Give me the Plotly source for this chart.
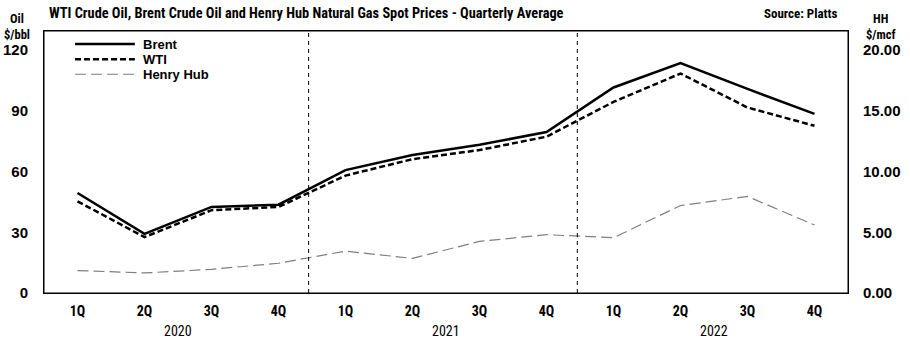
import plotly.graph_objects as go

quarters = ["1Q", "2Q", "3Q", "4Q"] * 3
years = ["2020", "2021", "2022"]
brent = [49.4, 29.2, 42.5, 43.6, 60.7, 68.2, 73.2, 79.5, 101.5, 113.6, 100.8, 88.5]
wti = [45.3, 27.6, 40.9, 42.5, 58.0, 66.1, 70.6, 77.2, 94.4, 108.4, 91.6, 82.6]
henry_hub = [1.85, 1.65, 1.95, 2.45, 3.45, 2.85, 4.25, 4.8, 4.55, 7.2, 7.95, 5.6]

x = list(range(len(quarters)))
narrow = "Liberation Sans Narrow, Arial Narrow, Roboto Condensed, Liberation Sans, Arial"
arial = "Liberation Sans, Arial"

styles = {
    "Brent": dict(color="black", width=2.5),
    "WTI": dict(color="black", width=2.5, dash="6px,3px"),
    "Henry Hub": dict(color="#7f7f7f", width=1.2, dash="11px,5px"),
}

fig = go.Figure()
fig.add_trace(go.Scatter(x=x, y=brent, name="Brent", mode="lines", line=styles["Brent"]))
fig.add_trace(go.Scatter(x=x, y=wti, name="WTI", mode="lines", line=styles["WTI"]))
fig.add_trace(go.Scatter(x=x, y=henry_hub, name="Henry Hub", mode="lines", yaxis="y2",
                         line=styles["Henry Hub"]))

for xv in [3.45, 7.46]:
    fig.add_shape(type="line", xref="x", yref="paper", x0=xv, x1=xv, y0=0, y1=1,
                  line=dict(color="black", width=1, dash="4px,4px"))

fig.add_shape(type="rect", xref="paper", yref="paper", x0=0, x1=1, y0=0, y1=1,
              line=dict(color="black", width=1))

# custom legend
for i, name in enumerate(["Brent", "WTI", "Henry Hub"]):
    ly = 0.950 - i * 0.0575
    fig.add_shape(type="line", xref="paper", yref="paper", x0=0.0386, x1=0.113, y0=ly, y1=ly,
                  line=styles[name])
    fig.add_annotation(x=0.1206, y=ly, xref="paper", yref="paper", xanchor="left", yanchor="middle",
                       text="<b>%s</b>" % name, showarrow=False,
                       font=dict(family=arial, size=13, color="black"))

for i, yr in enumerate(years):
    fig.add_annotation(x=i * 4 + 1.5, y=-0.105, xref="x", yref="paper", text=yr,
                       showarrow=False, yanchor="top",
                       font=dict(family=narrow, size=14, color="black"))

fig.add_annotation(x=0.004, y=1.03, xref="paper", yref="paper", xanchor="left", yanchor="bottom",
                   text="<b>WTI Crude Oil, Brent Crude Oil and Henry Hub Natural Gas Spot Prices - Quarterly Average</b>",
                   showarrow=False, font=dict(family=narrow, size=14.3, color="black"))
fig.add_annotation(x=0.99, y=1.03, xref="paper", yref="paper", xanchor="right", yanchor="bottom",
                   text="<b>Source: Platts</b>", showarrow=False,
                   font=dict(family=narrow, size=13, color="black"))
fig.add_annotation(x=0.0, y=1.085, xref="paper", yref="paper", xanchor="right", yanchor="top",
                   xshift=-12,
                   text="<b>Oil<br>$/bbl</b>", showarrow=False, align="center",
                   font=dict(family=narrow, size=12.5, color="black"))
fig.add_annotation(x=1.0, y=1.085, xref="paper", yref="paper", xanchor="left", yanchor="top",
                   xshift=16,
                   text="<b>HH<br>$/mcf</b>", showarrow=False, align="center",
                   font=dict(family=narrow, size=12.5, color="black"))

fig.update_layout(
    width=910, height=350,
    margin=dict(l=44, r=62, t=31, b=57),
    paper_bgcolor="white", plot_bgcolor="white",
    showlegend=False,
    xaxis=dict(range=[-0.5, 11.5], tickvals=x, ticktext=quarters, showgrid=False,
               zeroline=False, showline=True, linecolor="black", linewidth=1, mirror=True,
               ticks="", ticklabelstandoff=5, automargin=False,
               tickfont=dict(family=narrow, size=14, color="black", weight="bold")),
    yaxis=dict(range=[0, 129.4], tickvals=[0, 30, 60, 90, 120], showgrid=False,
               zeroline=False, showline=True, linecolor="black", linewidth=1, mirror=True,
               ticks="", ticklabelstandoff=12, automargin=False,
               tickfont=dict(family=arial, size=15, color="black", weight="bold")),
    yaxis2=dict(range=[0, 21.57], overlaying="y", side="right",
                tickvals=[0, 5, 10, 15, 20], ticktext=["0.00", "5.00", "10.00", "15.00", "20.00"],
                showgrid=False, zeroline=False, showline=False, ticks="", ticklabelstandoff=14,
                automargin=False,
                tickfont=dict(family=arial, size=15, color="black", weight="bold")),
)

fig.write_html("out.html")
